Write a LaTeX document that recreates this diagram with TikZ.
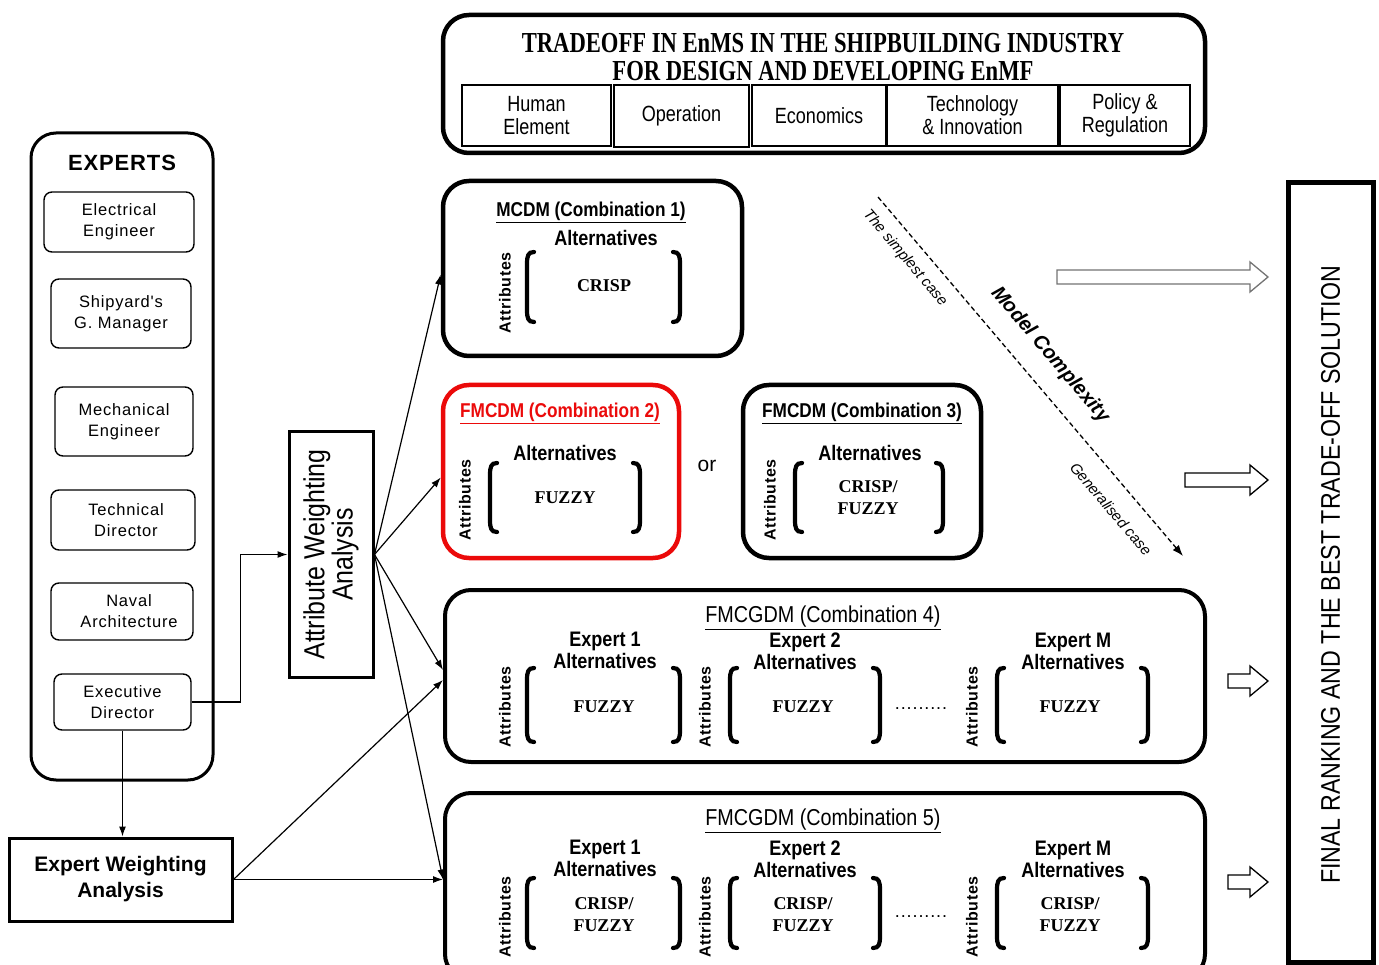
\documentclass[tikz,border=0pt]{standalone}
\usepackage{fontspec}
\setmainfont{Liberation Sans}
\newfontfamily\ttlf[FakeStretch=0.78]{Liberation Serif}
\newfontfamily\cellf[FakeStretch=0.82]{Liberation Sans}
\newfontfamily\narf[FakeStretch=0.86]{Liberation Sans}
\newfontfamily\spcf[LetterSpace=5]{Liberation Sans}
\newfontfamily\attf[LetterSpace=4]{Liberation Sans}
\newfontfamily\serf{Liberation Serif}
\usetikzlibrary{arrows.meta,calc}
\newcommand\fsz[2]{\fontsize{#1}{#2}\selectfont}
\newcommand\mybrk[4]{%
  \draw[brkline] (#1+7,#3) .. controls (#1+1,#3) and (#1,#3+4) .. (#1,#3+12) -- (#1,#4-12) .. controls (#1,#4-4) and (#1+1,#4) .. (#1+7,#4);
  \draw[brkline] (#2-7,#3) .. controls (#2-1,#3) and (#2,#3+4) .. (#2,#3+12) -- (#2,#4-12) .. controls (#2,#4-4) and (#2-1,#4) .. (#2-7,#4);}
\newcommand\harw[4]{%
  \draw[hollow,draw=#4] (#1,#3-7) -- (#2-18,#3-7) -- (#2-18,#3-15) -- (#2,#3) -- (#2-18,#3+15) -- (#2-18,#3+7) -- (#1,#3+7) -- cycle;}
\tikzset{
  bigbox/.style={draw, line width=4.5pt, rounded corners=26pt, inner sep=0pt},
  expbox/.style={draw, line width=1.4pt, rounded corners=8pt, align=center, inner sep=0pt, font=\spcf\fsz{16.5}{21}},
  cell/.style={draw, line width=1.5pt, align=center, inner sep=0pt, font=\cellf\fsz{22}{23}},
  conn/.style={line width=1.2pt, -{Latex[length=10pt,width=7pt]}},
  attr/.style={rotate=90, font=\attf\bfseries\fsz{16}{18}},
  altl/.style={font=\narf\bfseries\fsz{21}{22}, align=center},
  val/.style={font=\serf\bfseries\fsz{18}{22}, align=center},
  ctitle/.style={font=\narf\bfseries\fsz{20}{22}},
  gtitle/.style={font=\narf\fsz{23}{25}},
  hollow/.style={line width=1.3pt, fill=white},
  brkline/.style={line width=4.2pt, line cap=round},
  dotsl/.style={font=\spcf\fsz{18}{20}}
}
\begin{document}
\begin{tikzpicture}[x=1pt,y=-1pt]
\useasboundingbox (0,0) rectangle (1379,965);
\clip (0,0) rectangle (1379,965);

% ---- top box
\node[bigbox, minimum width=762pt, minimum height=138pt] (top) at (824,84) {};
\node[font=\ttlf\bfseries\fsz{29}{28}, align=center] (ttl) at (823,57) {TRADEOFF IN EnMS IN THE SHIPBUILDING INDUSTRY\\FOR DESIGN AND DEVELOPING EnMF};
\node[cell, minimum width=149pt, minimum height=61pt] (he) at (536.5,115.5) {Human\\Element};
\node[cell, minimum width=135pt, minimum height=62pt] (op) at (681.5,116) {Operation};
\node[cell, minimum width=134pt, minimum height=61pt] (ec) at (819,115.5) {Economics};
\node[cell, minimum width=171pt, minimum height=61pt] (ti) at (972.5,115.5) {Technology\\\& Innovation};
\node[cell, minimum width=130pt, minimum height=61pt] (pr) at (1125,115.5) {Policy \&\\Regulation};

% ---- experts
\node[draw, line width=3pt, rounded corners=25pt, minimum width=182pt, minimum height=647pt] (exps) at (122,456.5) {};
\node[font=\attf\bfseries\fsz{22}{24}] (expt) at (122,163) {EXPERTS};
\node[expbox, minimum width=150pt, minimum height=60pt] (ee) at (119,222) {Electrical\\Engineer};
\node[expbox, minimum width=140pt, minimum height=69pt] (sg) at (121,313.5) {Shipyard's\\G. Manager};
\node[expbox, minimum width=138pt, minimum height=69pt] (me) at (124,421.5) {Mechanical\\Engineer};
\node[expbox, minimum width=144pt, minimum height=60pt] (td) at (123,520) {\hspace*{6pt}Technical\\\hspace*{6pt}Director};
\node[expbox, minimum width=142pt, minimum height=57pt] (na) at (122,611.5) {\hspace*{14pt}Naval\\\hspace*{14pt}Architecture};
\node[expbox, minimum width=137pt, minimum height=56pt] (ed) at (122.5,702) {Executive\\Director};

% ---- weighting boxes
\node[draw, line width=3pt, minimum width=84pt, minimum height=245pt] (awa) at (331,554.5) {};
\node[rotate=90, font=\narf\fsz{29}{27}, align=center] (awat) at (331,554.5) {Attribute Weighting\\Analysis};
\node[draw, line width=3pt, minimum width=223pt, minimum height=83pt, align=center, font=\bfseries\fsz{21}{26}] (ewa) at (120.5,879.5) {Expert Weighting\\Analysis};

% ---- combination boxes
\node[bigbox, minimum width=299pt, minimum height=175pt] (c1) at (592.5,268.5) {};
\node[bigbox, draw={rgb,255:red,235;green,10;blue,10}, minimum width=236pt, minimum height=173pt] (c2) at (561,471.5) {};
\node[bigbox, minimum width=238pt, minimum height=173pt] (c3) at (862,471.5) {};
\node[bigbox, line width=4pt, minimum width=760pt, minimum height=172pt] (c4) at (825,676) {};
\node[bigbox, line width=4pt, minimum width=760pt, minimum height=187pt] (c5) at (825,886.5) {};
\node[draw, line width=5pt, minimum width=85pt, minimum height=779pt] (fin) at (1330.5,572.5) {};
\node[rotate=90, font=\narf\fsz{27}{29}] (fint) at (1330.5,575) {FINAL RANKING AND THE BEST TRADE-OFF SOLUTION};

% c1
\node[ctitle] (c1t) at (591,212) {\underline{MCDM (Combination 1)}};
\node[altl] (c1a) at (606,238) {Alternatives};
\node[val] (c1v) at (604,286) {CRISP};
\node[attr] (c1at) at (505,293) {Attributes};
\mybrk{527}{680}{252}{322}
% c2
\node[ctitle, text={rgb,255:red,235;green,10;blue,10}] (c2t) at (560,413) {\underline{FMCDM (Combination 2)}};
\node[altl] (c2a) at (565,453) {Alternatives};
\node[val] (c2v) at (565,498) {FUZZY};
\node[attr] (c2at) at (465,500) {Attributes};
\mybrk{490}{640}{463}{532}
\node[font=\fsz{21}{22}] (or) at (707,466) {or};
% c3
\node[ctitle] (c3t) at (862,413) {\underline{FMCDM (Combination 3)}};
\node[altl] (c3a) at (870,453) {Alternatives};
\node[val] (c3v) at (868,498) {CRISP/\\FUZZY};
\node[attr] (c3at) at (770,500) {Attributes};
\mybrk{795}{943}{463}{532}
% c4
\node[gtitle] (c4t) at (823,618) {\underline{FMCGDM (Combination 4)}};
\node[altl] (c4a1) at (605,650) {Expert 1\\Alternatives};
\node[altl] (c4a2) at (805,651) {Expert 2\\Alternatives};
\node[altl] (c4a3) at (1073,651) {Expert M\\Alternatives};
\node[val] (c4v1) at (604,707) {FUZZY};
\node[val] (c4v2) at (803,707) {FUZZY};
\node[val] (c4v3) at (1070,707) {FUZZY};
\node[attr] (c4b1) at (505,707) {Attributes};
\node[attr] (c4b2) at (705,707) {Attributes};
\node[attr] (c4b3) at (972,707) {Attributes};
\node[dotsl] (c4d) at (921,709) {.........};
\mybrk{527}{680}{668}{742}
\mybrk{730}{880}{668}{742}
\mybrk{997}{1148}{668}{742}
% c5
\node[gtitle] (c5t) at (823,821) {\underline{FMCGDM (Combination 5)}};
\node[altl] (c5a1) at (605,858) {Expert 1\\Alternatives};
\node[altl] (c5a2) at (805,859) {Expert 2\\Alternatives};
\node[altl] (c5a3) at (1073,859) {Expert M\\Alternatives};
\node[val] (c5v1) at (604,915) {CRISP/\\FUZZY};
\node[val] (c5v2) at (803,915) {CRISP/\\FUZZY};
\node[val] (c5v3) at (1070,915) {CRISP/\\FUZZY};
\node[attr] (c5b1) at (505,917) {Attributes};
\node[attr] (c5b2) at (705,917) {Attributes};
\node[attr] (c5b3) at (972,917) {Attributes};
\node[dotsl] (c5d) at (921,917) {.........};
\mybrk{527}{680}{878}{948}
\mybrk{730}{880}{878}{948}
\mybrk{997}{1148}{878}{948}

% ---- connectors
\draw[conn] (ed.east) -- ++(49,0) |- (awa.west);
\draw[conn] (ed.south) -- (ed.south |- ewa.north);
\draw[conn] (awa.east) -- ($(c1.west)+(0,6)$);
\draw[conn] (awa.east) -- ($(c2.west)+(0,6)$);
\draw[conn] (awa.east) -- ($(c4.west)+(0,-6)$);
\draw[conn] (awa.east) -- ($(c5.west)+(0,-7)$);
\draw[conn] (ewa.east) -- ($(c4.west)+(0,4)$);
\draw[conn] (ewa.east) -- ($(c5.west)+(0,-7)$);

% ---- model complexity
\coordinate (ds) at (878,197);
\coordinate (de) at (1183,556);
\draw[line width=1.3pt, dash pattern=on 5pt off 3pt, -{Latex[length=11pt,width=8pt]}] (ds) -- (de);
\node[rotate=-49.6, font=\itshape\fsz{15}{16}] (simp) at (905,258) {The simplest case};
\node[rotate=-49.6, font=\bfseries\itshape\fsz{20}{22}] (mc) at (1050,355) {Model Complexity};
\node[rotate=-49.6, font=\itshape\fsz{15}{16}] (gen) at (1111,509) {Generalised case};

% ---- hollow arrows
\harw{1057}{1268}{277}{black!55}
\harw{1185}{1268}{480}{black}
\harw{1228}{1268}{681}{black}
\harw{1228}{1268}{882}{black}
\end{tikzpicture}
\end{document}
